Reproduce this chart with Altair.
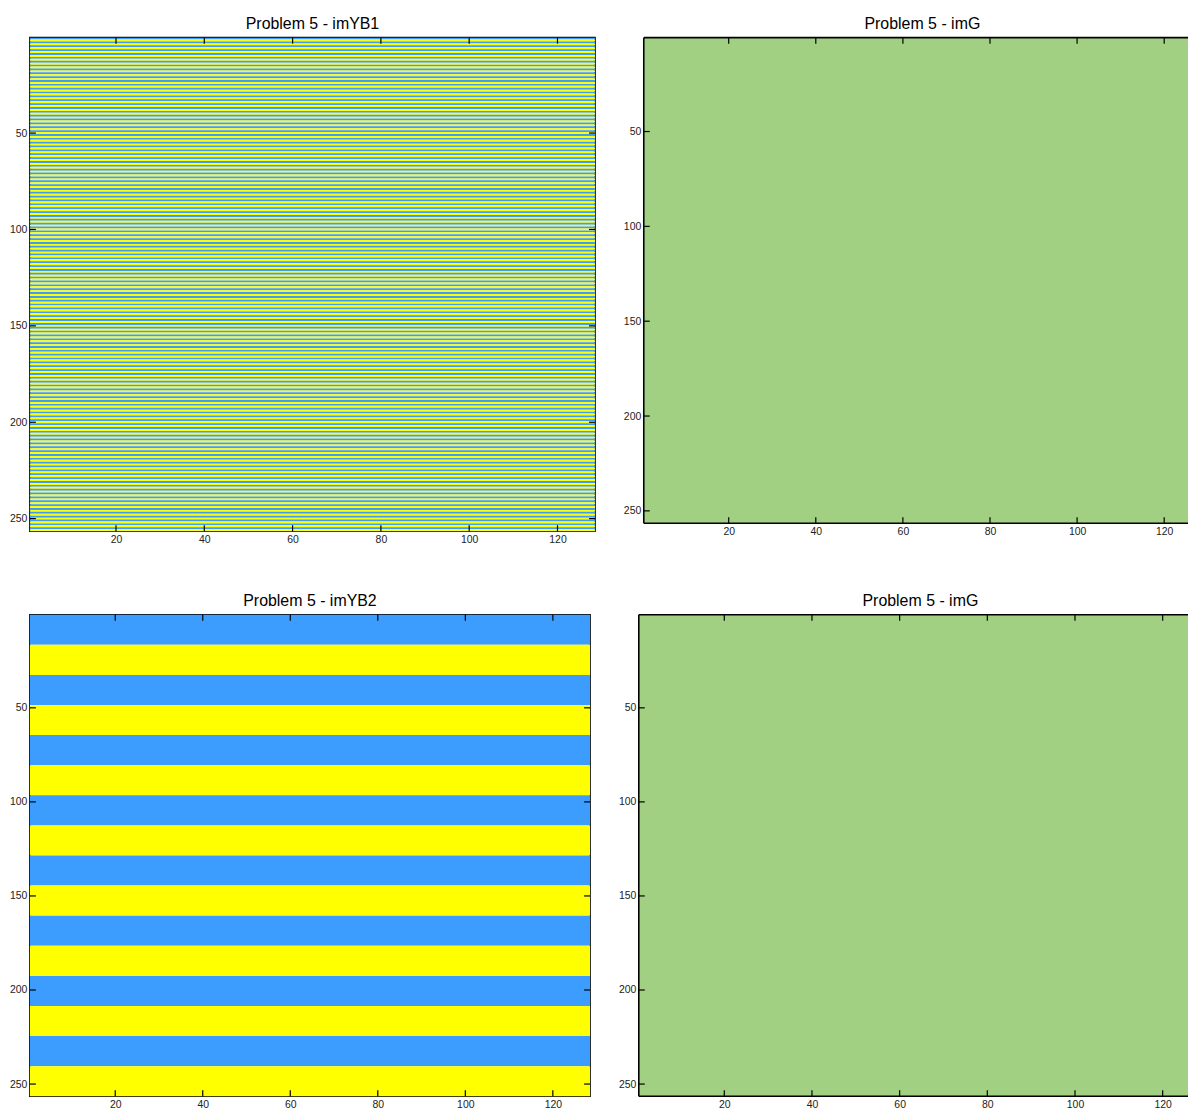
import altair as alt
import pandas as pd

# ---- image data (rows x cols) ----
N_ROWS = 256
N_COLS = 128
x_tick_values = [20, 40, 60, 80, 100, 120]
y_tick_values = [50, 100, 150, 200, 250]

YELLOW = "#ffff00"
BLUE = "#3d9dff"
GREEN = "#a2d082"

titles = ["Problem 5 - imYB1", "Problem 5 - imG", "Problem 5 - imYB2", "Problem 5 - imG"]

# imYB1: rows alternate blue / yellow, one row each
yb1_row_colours = [BLUE, YELLOW] * (N_ROWS // 2)
# imYB2: 16 bands of 16 rows, starting blue
yb2_band_rows = 16
yb2_band_colours = [BLUE, YELLOW] * 8
# imG: uniform green
img_colour = GREEN


def rows_to_rects(row_colours):
    recs = []
    for i, c in enumerate(row_colours):
        recs.append({"y0": i + 0.5, "y1": i + 1.5, "x0": 0.5, "x1": N_COLS + 0.5, "c": c})
    return pd.DataFrame(recs)


def bands_to_rects(band_colours, band_rows):
    recs = []
    for i, c in enumerate(band_colours):
        recs.append({"y0": i * band_rows + 0.5, "y1": (i + 1) * band_rows + 0.5,
                     "x0": 0.5, "x1": N_COLS + 0.5, "c": c})
    return pd.DataFrame(recs)


df_yb1 = rows_to_rects(yb1_row_colours)
df_yb2 = bands_to_rects(yb2_band_colours, yb2_band_rows)
df_g = pd.DataFrame([{"y0": 0.5, "y1": N_ROWS + 0.5, "x0": 0.5, "x1": N_COLS + 0.5, "c": img_colour}])

xt = pd.DataFrame({"v": x_tick_values})
yt = pd.DataFrame({"v": y_tick_values})

TICK = 6
FRAME = "black"
FONT = "Liberation Sans"


def panel(df, title, w, h, x_max=N_COLS + 0.5, clipped_right=False, title_x=None):
    df = df.copy()
    # the figure window cuts the right-hand panels off: keep only the visible part
    df["x1"] = df["x1"].clip(upper=x_max)
    xs = alt.Scale(domain=[0.5, x_max], nice=False, zero=False)
    ys = alt.Scale(domain=[0.5, N_ROWS + 0.5], nice=False, zero=False, reverse=True)
    img = alt.Chart(df).mark_rect(strokeWidth=0).encode(
        x=alt.X("x0:Q", scale=xs, axis=alt.Axis(values=x_tick_values, title=None)),
        x2="x1:Q",
        y=alt.Y("y0:Q", scale=ys, axis=alt.Axis(values=y_tick_values, title=None)),
        y2="y1:Q",
        color=alt.Color("c:N", scale=None),
    )
    tb = alt.Chart(xt).mark_rule(color=FRAME, strokeWidth=1.2).encode(
        x=alt.X("v:Q", scale=xs), y=alt.value(0), y2=alt.value(TICK))
    bb = alt.Chart(xt).mark_rule(color=FRAME, strokeWidth=1.2).encode(
        x=alt.X("v:Q", scale=xs), y=alt.value(h), y2=alt.value(h - TICK))
    lt = alt.Chart(yt).mark_rule(color=FRAME, strokeWidth=1.2).encode(
        y=alt.Y("v:Q", scale=ys), x=alt.value(0), x2=alt.value(TICK))
    tdf = pd.DataFrame({"t": [title]})
    ttl = alt.Chart(tdf).mark_text(
        font=FONT, fontSize=16, color="black", align="center", baseline="alphabetic"
    ).encode(x=alt.value(title_x if title_x is not None else w / 2),
             y=alt.value(-9), text="t:N")
    layers = [img, tb, bb, lt, ttl]
    props = dict(width=w, height=h)
    if clipped_right:
        edge = pd.DataFrame({"k": [0]})
        top = alt.Chart(edge).mark_rule(color=FRAME, strokeWidth=1.6).encode(
            x=alt.value(0), x2=alt.value(w), y=alt.value(0))
        bot = alt.Chart(edge).mark_rule(color=FRAME, strokeWidth=1.6).encode(
            x=alt.value(0), x2=alt.value(w), y=alt.value(h))
        left = alt.Chart(edge).mark_rule(color=FRAME, strokeWidth=1.6).encode(
            x=alt.value(0), y=alt.value(0), y2=alt.value(h))
        layers += [top, bot, left]
        props["view"] = alt.ViewBackground(stroke="transparent")
    else:
        rt = alt.Chart(yt).mark_rule(color=FRAME, strokeWidth=1.2).encode(
            y=alt.Y("v:Q", scale=ys), x=alt.value(w), x2=alt.value(w - TICK))
        layers.append(rt)
    return alt.layer(*layers).properties(**props)


p1 = panel(df_yb1, titles[0], 568, 496)
p2 = panel(df_g, titles[1], 547, 488, x_max=125.47, clipped_right=True, title_x=280)
p3 = panel(df_yb2, titles[2], 563, 484)
p4 = panel(df_g, titles[3], 552, 484, x_max=125.78, clipped_right=True, title_x=283)

row1 = alt.hconcat(p1, p2, spacing=25)
row2 = alt.hconcat(p3, p4, spacing=25)

chart = alt.vconcat(row1, row2, spacing=46).properties(
    padding={"left": 0, "top": 4, "right": 0, "bottom": 0}
).configure_view(
    stroke=FRAME, strokeWidth=1.6
).configure_axis(
    labelFont=FONT, labelFontSize=10.5, labelColor="#222222",
    tickSize=0, domain=False, grid=False, labelPadding=3, ticks=False,
)

chart.save("out.html", embed_options={"renderer": "svg", "actions": False})
